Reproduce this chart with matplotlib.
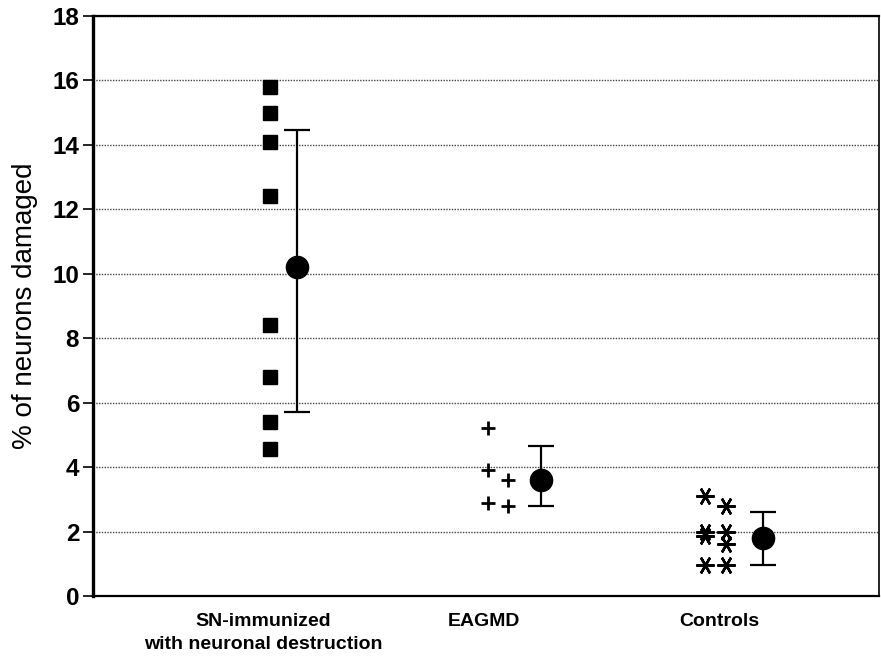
import matplotlib
matplotlib.use('Agg')
import matplotlib.pyplot as plt
import numpy as np

plt.rcParams['font.family'] = ['Liberation Sans', 'DejaVu Sans']

# individual values (% of neurons damaged)
sn_left = [15.8, 15.0, 14.1, 12.4, 8.4, 6.8, 5.4, 4.55]
eag_left = [5.2, 3.9, 2.9]
eag_right = [3.6, 2.8]
ctl_left = [3.1, 2.0, 1.85, 0.95]
ctl_right = [2.8, 2.0, 1.6, 0.95]

# group means and error bar limits
means = [10.2, 3.6, 1.8]
err_low = [5.7, 2.8, 0.95]
err_high = [14.45, 4.65, 2.6]

categories = ['SN-immunized\nwith neuronal destruction', 'EAGMD', 'Controls']
yticks = [0, 2, 4, 6, 8, 10, 12, 14, 16, 18]

fig = plt.figure(figsize=(8.81, 6.56), dpi=100)
ax = fig.add_axes([0.1056, 0.0915, 0.8921, 0.8841])

mean_x = np.array([0.124, 1.244, 2.267])
lo = np.array(means) - np.array(err_low)
hi = np.array(err_high) - np.array(means)

star = (6, 2, 90)
ax.plot(np.zeros(len(sn_left)), sn_left, 's', color='black', ms=10, zorder=3)
ax.plot(np.full(len(eag_left), 1.0), eag_left, '+', color='black', ms=10, mew=2, zorder=3)
ax.plot(np.full(len(eag_right), 1.094), eag_right, '+', color='black', ms=10, mew=2, zorder=3)
ax.plot(np.full(len(ctl_left), 2.0), ctl_left, marker=star, ls='none', color='black', ms=13, mew=1.8, zorder=3)
ax.plot(np.full(len(ctl_right), 2.097), ctl_right, marker=star, ls='none', color='black', ms=13, mew=1.8, zorder=3)

ax.errorbar(mean_x, means, yerr=[lo, hi], fmt='o', color='black', ms=16,
            capsize=9.5, elinewidth=1.6, capthick=1.6, zorder=4)

ax.set_xlim(-0.814, 2.8)
ax.set_ylim(0, 18)
ax.set_yticks(yticks)
ax.set_xticks([-0.032, 0.982, 2.064])
ax.set_xticklabels(categories, fontsize=14, fontweight='bold', linespacing=1.5)
ax.tick_params(axis='x', length=0, pad=12)
ax.tick_params(axis='y', length=7, width=1.2, labelsize=17.5, pad=3)
for lab in ax.get_yticklabels():
    lab.set_fontweight('bold')
ax.set_ylabel('% of neurons damaged', fontsize=20, labelpad=10)

ax.yaxis.grid(True, linestyle=(0, (1, 1)), color='#444444', linewidth=1)
ax.set_axisbelow(True)

ax.spines['left'].set_linewidth(2.4)
ax.spines['bottom'].set_linewidth(1.6)
ax.spines['top'].set_linewidth(1.6)
ax.spines['right'].set_linewidth(1.2)

fig.savefig('out.png', dpi=100)
